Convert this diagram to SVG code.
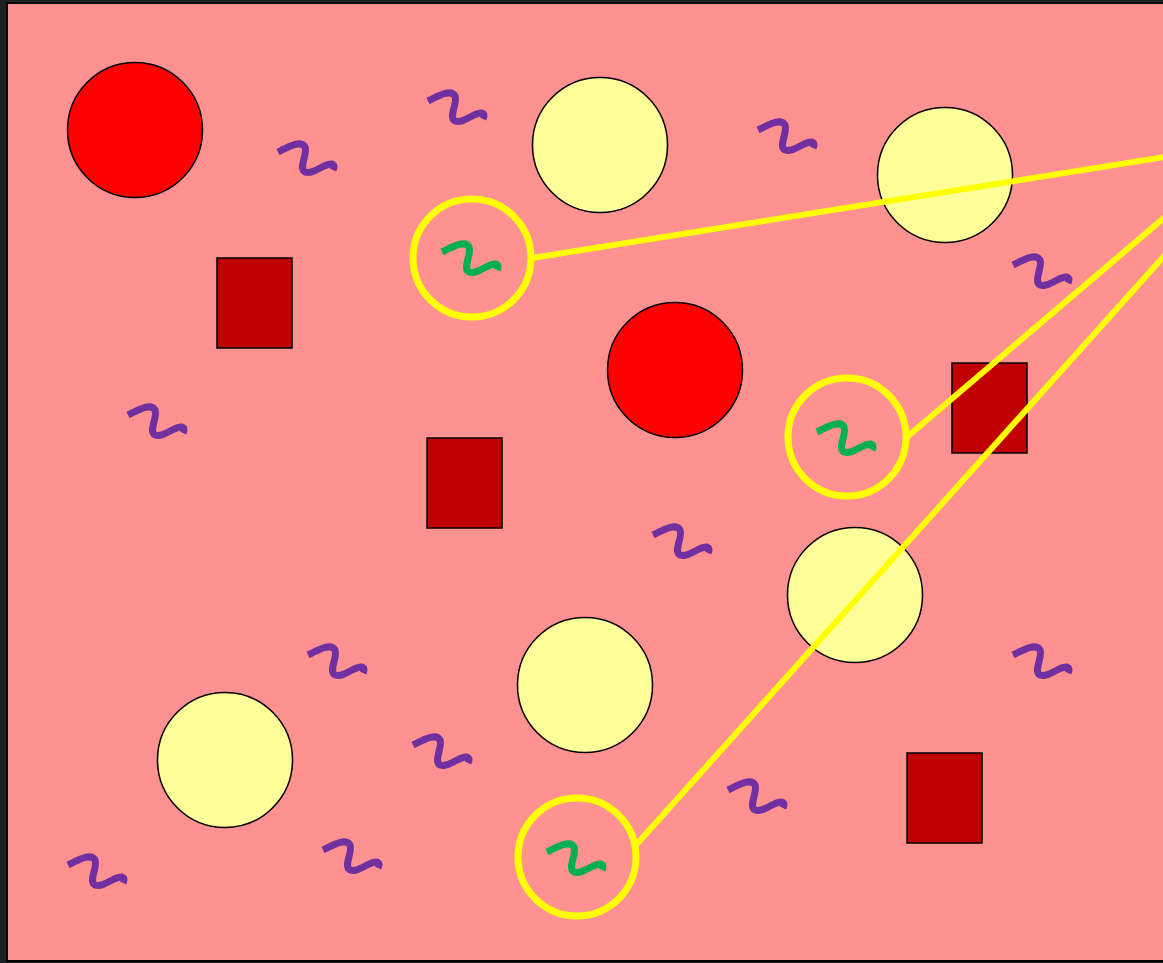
<svg xmlns="http://www.w3.org/2000/svg" width="1163" height="963" viewBox="0 0 1163 963">
<defs>
<style>
.bg{fill:#1b2125}
.panel{fill:#FF9191;stroke:#000;stroke-width:2}
.red{fill:#FF0000;stroke:#000;stroke-width:1.5}
.pale{fill:#FFFF99;stroke:#000;stroke-width:1.5}
.sq{fill:#C00000;stroke:#000;stroke-width:1.5}
.ring{fill:none;stroke:#FFFF00;stroke-width:7}
.link{stroke:#FFFF00;stroke-width:6;fill:none}
.sqg{fill:none;stroke-width:7;stroke-linecap:butt;stroke-linejoin:round}
.p{stroke:#7030A0}
.g{stroke:#00B050}
</style>
<path id="squig" d="M0,0 C12,-6 23,-12 27,-5 C30,2 20,16 27,20 C36,23 46,11 54,12 C57,13 56,16 55,18"/>
</defs>
<rect class="bg" x="0" y="0" width="1163" height="963"/>
<rect class="panel" x="7" y="3" width="1160" height="958"/>
<g id="red1"><circle class="red" cx="135" cy="130" r="67.5"/></g>
<g id="red2"><circle class="red" cx="675" cy="370" r="67.5"/></g>
<g id="pale1"><circle class="pale" cx="600" cy="145" r="67.5"/></g>
<g id="pale2"><circle class="pale" cx="945" cy="175" r="67.5"/></g>
<g id="pale3"><circle class="pale" cx="855" cy="595" r="67.5"/></g>
<g id="pale4"><circle class="pale" cx="585" cy="685" r="67.5"/></g>
<g id="pale5"><circle class="pale" cx="225" cy="760" r="67.5"/></g>
<g id="sq1"><rect class="sq" x="217" y="258" width="75" height="90"/></g>
<g id="sq2"><rect class="sq" x="427" y="438" width="75" height="90"/></g>
<g id="sq3"><rect class="sq" x="952" y="363" width="75" height="90"/></g>
<g id="sq4"><rect class="sq" x="907" y="753" width="75" height="90"/></g>
<g id="squiggles">
<use href="#squig" class="sqg p" x="278" y="152"/>
<use href="#squig" class="sqg p" x="428" y="101"/>
<use href="#squig" class="sqg p" x="758" y="130"/>
<use href="#squig" class="sqg p" x="1013" y="265"/>
<use href="#squig" class="sqg p" x="128" y="415"/>
<use href="#squig" class="sqg p" x="653" y="535"/>
<use href="#squig" class="sqg p" x="308" y="655"/>
<use href="#squig" class="sqg p" x="1013" y="655"/>
<use href="#squig" class="sqg p" x="413" y="745"/>
<use href="#squig" class="sqg p" x="728" y="790"/>
<use href="#squig" class="sqg p" x="323" y="850"/>
<use href="#squig" class="sqg p" x="68" y="865"/>
</g>
<g id="target1"><circle class="ring" cx="472" cy="258" r="59"/><use href="#squig" class="sqg g" x="442" y="252"/></g>
<g id="target2"><circle class="ring" cx="847" cy="437" r="59"/><use href="#squig" class="sqg g" x="817" y="432"/></g>
<g id="target3"><circle class="ring" cx="577" cy="857" r="59"/><use href="#squig" class="sqg g" x="547" y="852"/></g>
<g id="connectors">
<line class="link" x1="532" y1="258" x2="1165" y2="157"/>
<line class="link" x1="907" y1="437" x2="1165" y2="217"/>
<line class="link" x1="636" y1="845" x2="1165" y2="255"/>
</g>
</svg>
